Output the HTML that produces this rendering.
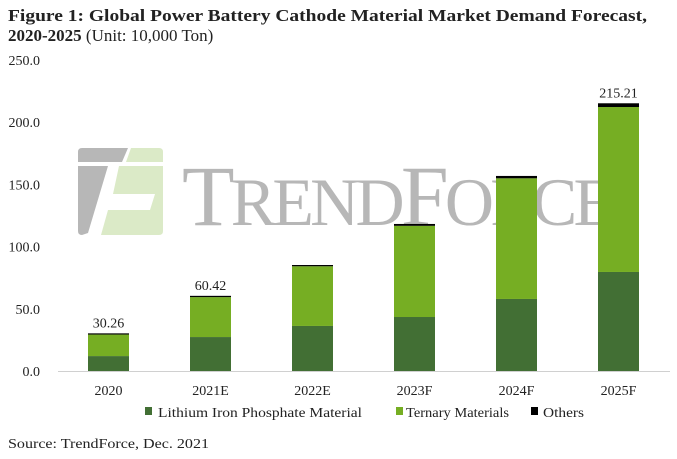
<!DOCTYPE html>
<html><head><meta charset="utf-8"><style>
body{margin:0;background:#fff;width:677px;height:459px;overflow:hidden}
svg{display:block;font-family:"Liberation Serif","DejaVu Serif",serif}
</style></head><body>
<svg id="chart" width="677" height="459">
<text x="8" y="21" font-size="17" font-weight="bold" fill="#222" textLength="639" lengthAdjust="spacingAndGlyphs">Figure 1: Global Power Battery Cathode Material Market Demand Forecast,</text>
<text x="8" y="41" font-size="17" fill="#222"><tspan font-weight="bold">2020-2025</tspan> (Unit: 10,000 Ton)</text>
<g id="watermark" opacity="0.75">
<path d="M78 152 Q78 148 82 148 L128 148 L122 162 L78 162 Z" fill="#a0a0a0"/>
<path d="M78 166 L108 166 L88 233 L82 235 Q78 235 78 231 Z" fill="#a0a0a0"/>
<path d="M131 148 L159 148 Q163 148 163 152 L163 162 L126 162 Z" fill="#cfe3b5"/>
<path d="M119 166 L163 166 L163 231 Q163 235 159 235 L101 235 L108 210 L150 210 L155 194 L113 194 Z" fill="#cfe3b5"/>
<text x="182" y="225" font-size="86" fill="#a0a0a0" textLength="433" lengthAdjust="spacing">T<tspan font-size="68">REND</tspan>F<tspan font-size="68">ORCE</tspan></text>
</g>
<g id="yaxis" font-size="14" fill="#222"></g>
<g id="bars"></g>
<line x1="58" y1="371.5" x2="670" y2="371.5" stroke="#d0d0d0" stroke-width="1"/>
<g id="xaxis" font-size="14" fill="#222"></g>
<g id="legend" font-size="14" fill="#222">
<rect x="145" y="407" width="7" height="8" fill="#426f34"/>
<text x="158" y="417" textLength="204" lengthAdjust="spacingAndGlyphs">Lithium Iron Phosphate Material</text>
<rect x="396" y="407" width="7" height="8" fill="#76ae23"/>
<text x="406" y="417" textLength="103" lengthAdjust="spacingAndGlyphs">Ternary Materials</text>
<rect x="531" y="407" width="7" height="8" fill="#000"/>
<text x="543" y="417" textLength="41" lengthAdjust="spacingAndGlyphs">Others</text>
</g>
<text x="8" y="448" font-size="14" fill="#222" textLength="201" lengthAdjust="spacingAndGlyphs">Source: TrendForce, Dec. 2021</text>
</svg>
<script>
const categories=["2020","2021E","2022E","2023F","2024F","2025F"];
const lfp=[12,27.3,36.2,43.4,57.9,79.6];
const ternary=[17.3,32.1,48,73.3,97,132.6];
const others=[0.96,1.02,1,1.5,1.9,3.01];
const totalLabels=["30.26","60.42","","","","215.21"];
const yTicks=[0,50,100,150,200,250];
const yTickLabels=["0.0","50.0","100.0","150.0","200.0","250.0"];
const NS="http://www.w3.org/2000/svg";
function y(v){return 371-v*1.244;}
function xc(i){return 108.5+i*102;}
const bw=41;
function mk(t,a,p){const e=document.createElementNS(NS,t);for(const k in a)e.setAttribute(k,a[k]);p.appendChild(e);return e;}
const ya=document.getElementById('yaxis');
yTicks.forEach((v,i)=>{const t=mk('text',{x:40,y:y(v)+5,'text-anchor':'end'},ya);t.textContent=yTickLabels[i];

});
const bars=document.getElementById('bars');
const xa=document.getElementById('xaxis');
categories.forEach((c,i)=>{
 const x=xc(i)-bw/2;let base=0;
 [[lfp,'#426f34','bar-lfp'],[ternary,'#76ae23','bar-ternary'],[others,'#000','bar-others']].forEach(([arr,col,nm])=>{
  const r=mk('rect',{x:x,y:y(base+arr[i]),width:bw,height:arr[i]*1.244,fill:col},bars);
  
  
  base+=arr[i];});
 if(totalLabels[i]){const t=mk('text',{x:xc(i),y:y(base)-6,'text-anchor':'middle','font-size':14,fill:'#222'},bars);t.textContent=totalLabels[i];
  
  }
 const l=mk('text',{x:xc(i),y:395,'text-anchor':'middle'},xa);l.textContent=c;
 
 
});
</script>
</body></html>
